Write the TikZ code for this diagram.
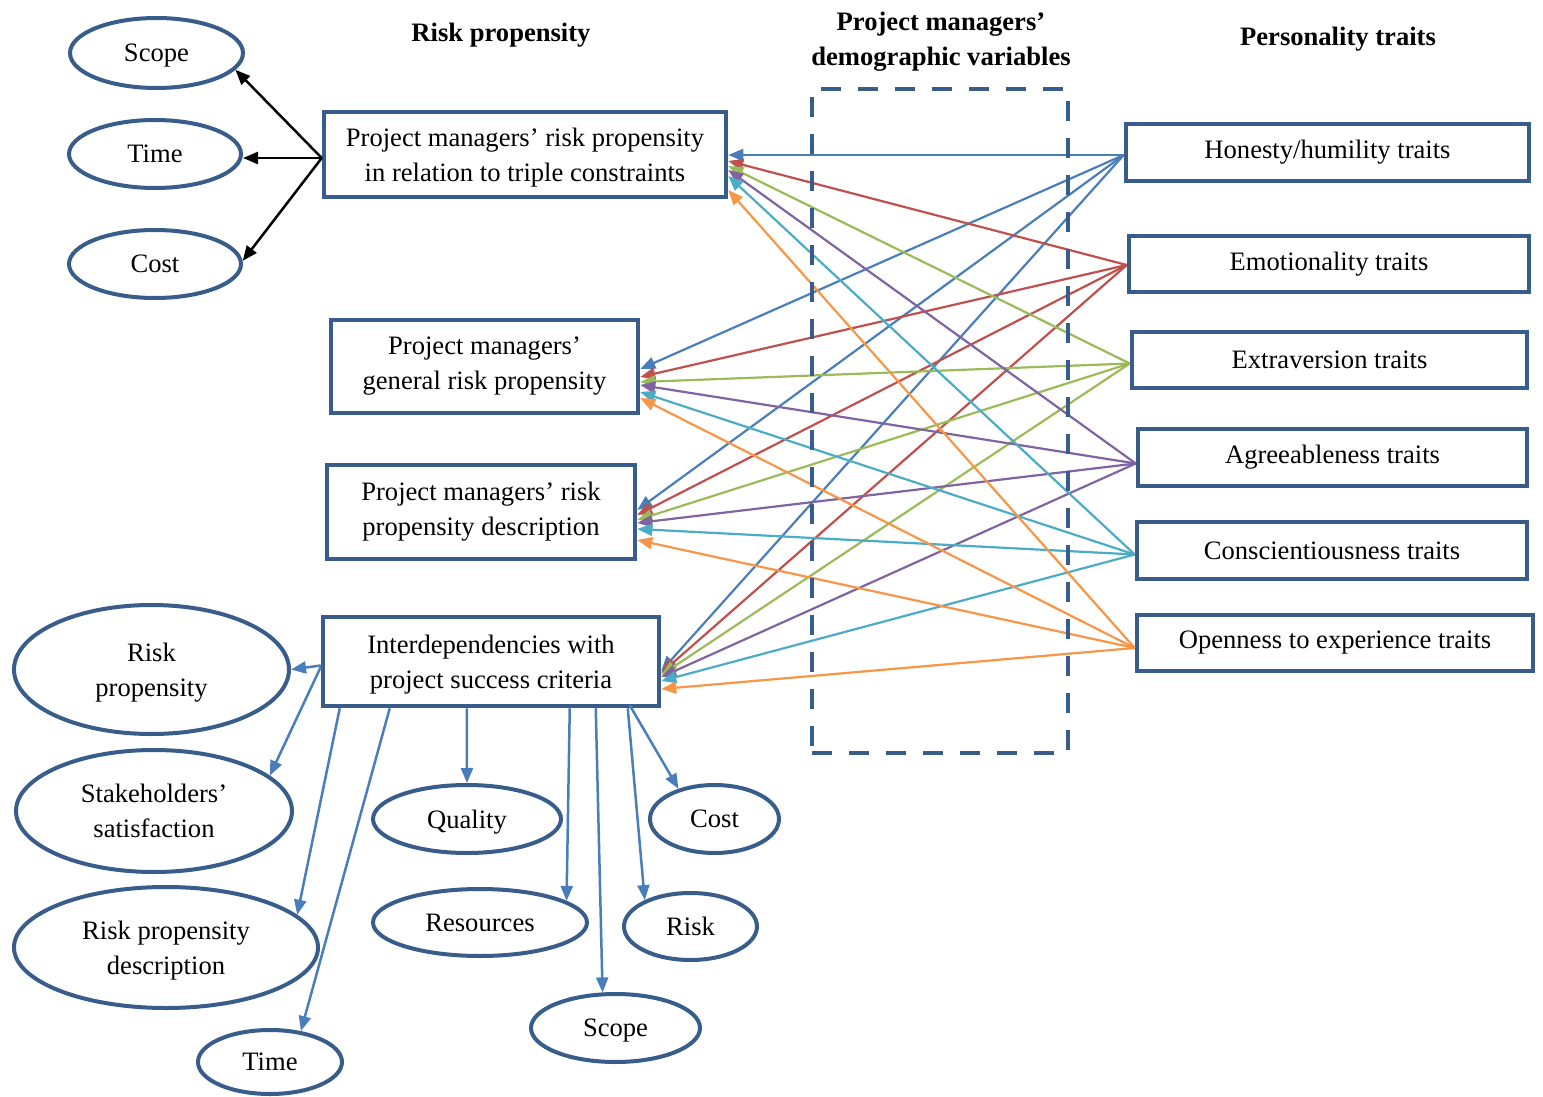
\documentclass[tikz,border=0pt]{standalone}
\usepackage{fontspec}
\setmainfont{Liberation Serif}
\usetikzlibrary{shapes.geometric,arrows.meta}

\definecolor{frame}{RGB}{56,93,138}
\definecolor{lineblue}{RGB}{74,126,187}
\definecolor{cred}{RGB}{192,80,77}
\definecolor{cgreen}{RGB}{155,187,89}
\definecolor{cpurple}{RGB}{128,100,162}
\definecolor{caqua}{RGB}{75,172,198}
\definecolor{corange}{RGB}{247,150,70}

\begin{document}
\begin{tikzpicture}[x=1pt,y=-1pt,
  font=\fontsize{26.6}{35}\selectfont,
  box/.style={draw=frame,line width=4.5pt,rectangle,align=center,inner sep=0pt,fill=white},
  oval/.style={draw=frame,line width=4pt,ellipse,align=center,inner sep=0pt,fill=white,text depth=0pt},
  low/.style={text depth=0pt},
  title/.style={font=\fontsize{26.6}{35}\selectfont\bfseries,align=center,text depth=0pt},
  link/.style={line width=2.2pt,-{Triangle[length=15pt,width=12pt]}},
  crit/.style={draw=lineblue,line width=2.5pt,-{Triangle[length=15pt,width=12pt]}},
  dim/.style={draw=black,line width=2.5pt,-{Triangle[length=15pt,width=12pt]}}
]
\useasboundingbox[fill=white] (0,0) rectangle (1543,1097);

% headings
\node[title] (tRisk) at (501,32) {Risk propensity};
\node[title] (tDemo) at (941,39) {Project managers’\\demographic variables};
\node[title] (tPers) at (1338,36) {Personality traits};

% risk propensity boxes
\node[box,low,minimum width=402pt,minimum height=85pt] (B1) at (525,154.5)
  {Project managers’ risk propensity\\in relation to triple constraints};
\node[box,minimum width=307pt,minimum height=93pt] (B2) at (484.5,366.5)
  {Project managers’\\general risk propensity};
\node[box,minimum width=308pt,minimum height=94pt] (B3) at (481,512)
  {Project managers’ risk\\propensity description};
\node[box,low,minimum width=336pt,minimum height=89pt] (B4) at (491,661.5)
  {Interdependencies with\\project success criteria};

% personality trait boxes
\node[box,minimum width=403pt,minimum height=57pt] (R1) at (1327.5,152.5) {Honesty/humility traits};
\node[box,minimum width=400pt,minimum height=56pt] (R2) at (1329,264) {Emotionality traits};
\node[box,minimum width=395pt,minimum height=56pt] (R3) at (1329.5,360) {Extraversion traits};
\node[box,minimum width=389pt,minimum height=57pt] (R4) at (1332.5,457.5) {Agreeableness traits};
\node[box,minimum width=390pt,minimum height=57pt] (R5) at (1332,550.5) {Conscientiousness traits};
\node[box,minimum width=396pt,minimum height=56pt] (R6) at (1335,643) {Openness to experience traits};

% triple constraints
\node[oval,minimum width=173pt,minimum height=70pt] (sTL) at (156.5,53) {Scope};
\node[oval,minimum width=172pt,minimum height=68pt] (tTL) at (155,154) {Time};
\node[oval,minimum width=172pt,minimum height=68pt] (cTL) at (155,264) {Cost};

% success criteria
\node[oval,minimum width=275pt,minimum height=129pt] (rp) at (151.5,669.5) {Risk\\propensity};
\node[oval,minimum width=276pt,minimum height=122pt] (st) at (154,811) {Stakeholders’\\satisfaction};
\node[oval,minimum width=304pt,minimum height=121pt] (rpd) at (166,947.5) {Risk propensity\\description};
\node[oval,minimum width=144pt,minimum height=64pt] (tb) at (270,1062) {Time};
\node[oval,minimum width=188pt,minimum height=68pt] (q) at (467,819) {Quality};
\node[oval,minimum width=214pt,minimum height=67pt] (res) at (480,922.5) {Resources};
\node[oval,minimum width=169pt,minimum height=68pt] (sb) at (615.5,1028) {Scope};
\node[oval,minimum width=129pt,minimum height=68pt] (cb) at (714.5,819) {Cost};
\node[oval,minimum width=133pt,minimum height=67pt] (rk) at (690.5,926.5) {Risk};

% triple constraint arrows
\coordinate (b1w) at ([yshift=-3.5pt]B1.west);
\draw[dim] (b1w) -- (sTL.-12);
\draw[dim] (b1w) -- (tTL.east |- b1w);
\draw[dim] (b1w) -- (cTL.2);

% success criteria arrows
\draw[crit] ([yshift=-4pt]B4.west) -- (rp.east);
\draw[crit] ([yshift=-5.5pt]B4.west) -- (st.17);
\draw[crit] ([xshift=19pt]B4.south west) -- (rpd.14);
\draw[crit] ([xshift=69pt]B4.south west) -- (tb.45);
\draw[crit] ([xshift=146pt]B4.south west) -- (q.north);
\draw[crit] ([xshift=249pt]B4.south west) -- (res.14);
\draw[crit] ([xshift=275pt]B4.south west) -- (sb.110);
\draw[crit] ([xshift=307pt]B4.south west) -- (rk.150);
\draw[crit] ([xshift=309pt,yshift=3pt]B4.south west) -- (cb.140);

% trait links
\foreach \tgt/\dy in {B1/-0.5, B2/-2.5, B3/2, B4/-9.5}
  \draw[link,color=lineblue] ([yshift=-2.5pt]R1.west) -- ([yshift=\dy pt]\tgt.east);
\foreach \tgt/\dy in {B1/-6.5, B2/-10.5, B3/-3, B4/-11.5}
  \draw[link,color=cred] ([yshift=-1pt]R2.west) -- ([yshift=\dy pt]\tgt.east);
\foreach \tgt/\dy in {B1/-11.5, B2/-15.5, B3/-8, B4/-13.5}
  \draw[link,color=cgreen] ([yshift=-3.5pt]R3.west) -- ([yshift=\dy pt]\tgt.east);
\foreach \tgt/\dy in {B1/-15.5, B2/-18.5, B3/-11, B4/-15.5}
  \draw[link,color=cpurple] ([yshift=-6pt]R4.west) -- ([yshift=\dy pt]\tgt.east);
\foreach \tgt/\dy in {B1/-21.5, B2/-25.5, B3/-17, B4/-19.5}
  \draw[link,color=caqua] ([yshift=-4pt]R5.west) -- ([yshift=\dy pt]\tgt.east);
\foreach \tgt/\dy in {B1/-35.5, B2/-31.5, B3/-28, B4/-27.5}
  \draw[link,color=corange] ([yshift=-5pt]R6.west) -- ([yshift=\dy pt]\tgt.east);

% demographic variables frame
\node[draw=frame,line width=4pt,dash pattern=on 20pt off 17pt,
  minimum width=256pt,minimum height=664pt,inner sep=0pt] (demo) at (940,421) {};
\end{tikzpicture}
\end{document}
